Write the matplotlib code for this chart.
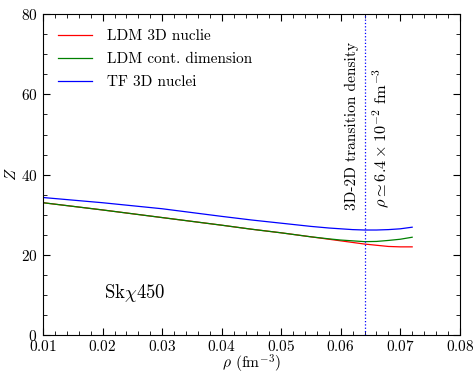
import matplotlib
matplotlib.use("Agg")
import matplotlib.pyplot as plt
from matplotlib.ticker import MultipleLocator

plt.rcParams["font.family"] = "serif"
plt.rcParams["font.serif"] = ["cmr10", "DejaVu Serif"]
plt.rcParams["mathtext.fontset"] = "cm"
plt.rcParams["axes.formatter.use_mathtext"] = True

rho = [0.010, 0.020, 0.030, 0.040, 0.045, 0.050, 0.055, 0.058, 0.060, 0.062,
       0.064, 0.066, 0.068, 0.070, 0.072]
z_ldm_3d = [33.0, 31.2, 29.3, 27.4, 26.4, 25.5, 24.5, 23.9, 23.5, 23.1,
            22.7, 22.4, 22.1, 22.0, 22.0]
z_ldm_cont = [33.0, 31.2, 29.3, 27.4, 26.4, 25.5, 24.5, 24.0, 23.7, 23.5,
              23.3, 23.35, 23.6, 23.9, 24.4]
z_tf_3d = [34.3, 33.0, 31.5, 29.6, 28.7, 27.9, 27.1, 26.7, 26.5, 26.3,
           26.2, 26.2, 26.3, 26.5, 26.9]
rho_transition = 0.064

fig, ax = plt.subplots(figsize=(4.74, 3.74), dpi=100)
ax.plot(rho, z_ldm_3d, color="red", lw=0.9, label="LDM 3D nuclie")
ax.plot(rho, z_ldm_cont, color="green", lw=0.9, label="LDM cont. dimension")
ax.plot(rho, z_tf_3d, color="blue", lw=0.9, label="TF 3D nuclei")
ax.axvline(rho_transition, color="blue", ls=":", lw=0.9)

ax.text(0.0619, 31.3, "3D-2D transition density", rotation=90,
        ha="center", va="bottom", fontsize=11.1)
ax.text(0.0667, 31.8, r"$\rho \simeq 6.4 \times 10^{-2}$ fm$^{-3}$", rotation=90,
        ha="center", va="bottom", fontsize=11.8)
ax.text(0.0203, 10.5, r"Sk$\chi$450", fontsize=13.5, ha="left", va="center")

ax.set_xlim(0.01, 0.08)
ax.set_ylim(0, 80)
ax.xaxis.set_major_locator(MultipleLocator(0.01))
ax.xaxis.set_minor_locator(MultipleLocator(0.002))
ax.yaxis.set_major_locator(MultipleLocator(20))
ax.yaxis.set_minor_locator(MultipleLocator(5))
ax.tick_params(which="both", direction="in", top=True, right=True, labelsize=11)
ax.tick_params(which="major", length=5, pad=4)
ax.tick_params(axis="x", which="major", pad=2.5)
ax.tick_params(which="minor", length=3)
ax.set_xlabel(r"$\rho$ (fm$^{-3}$)", fontsize=11.2)
ax.set_ylabel(r"$Z$", fontsize=11.5)
ax.xaxis.set_label_coords(0.5, -0.056)
ax.yaxis.set_label_coords(-0.058, 0.5)
ax.legend(loc="upper left", frameon=False, fontsize=11, handlelength=2.2,
          handletextpad=1.0, labelspacing=0.6, borderaxespad=0.6)

fig.subplots_adjust(left=0.091, right=0.970, top=0.962, bottom=0.104)
fig.savefig("out.png", dpi=100)
